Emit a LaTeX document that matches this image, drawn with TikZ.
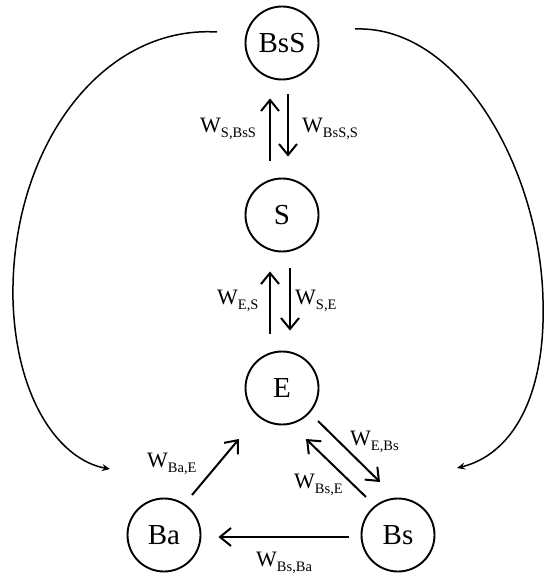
\documentclass[tikz,border=0pt]{standalone}
\usepackage{fontspec}
\setmainfont{Liberation Serif}
\usetikzlibrary{arrows.meta}
\newcommand{\wl}[1]{{\fontsize{22}{22}\selectfont W}\raisebox{-5pt}{\fontsize{14.5}{14.5}\selectfont #1}}
\tikzset{
  state/.style={circle,draw,line width=1.9pt,minimum size=73pt,inner sep=0pt,font=\fontsize{29}{29}\selectfont},
  rate/.style={line width=2pt,-{Straight Barb[length=11pt,width=18pt,line width=2pt]}},
  loopc/.style={line width=1.5pt,-{Stealth[length=8pt,width=7pt]}},
  lbl/.style={anchor=base west,inner sep=0pt}
}
\begin{document}
\begin{tikzpicture}[x=1pt,y=-1pt]
\useasboundingbox (0,0) rectangle (544,577);
\node[state] (BsS) at (282,43) {BsS};
\node[state] (S) at (282,215) {S};
\node[state] (E) at (282,388) {E};
\node[state] (Ba) at (164,535) {Ba};
\node[state] (Bs) at (398,535) {Bs};

% BsS <-> S
\draw[rate] ([shift={(-12,-17)}]S.north) -- ([shift={(-12,18)}]BsS.south);
\draw[rate] ([shift={(6,14)}]BsS.south) -- ([shift={(6,-21)}]S.north);
% S <-> E
\draw[rate] ([shift={(-12,-17)}]E.north) -- ([shift={(-12,19)}]S.south);
\draw[rate] ([shift={(8,16)}]S.south) -- ([shift={(8,-20)}]E.north);
% Ba -> E
\draw[rate] ([shift={(28,-40)}]Ba.center) -- ([shift={(-43,51)}]E.center);
% E <-> Bs
\draw[rate] ([shift={(36,33)}]E.center) -- ([shift={(-18,-53)}]Bs.center);
\draw[rate] ([shift={(-32,-38)}]Bs.center) -- ([shift={(24,51)}]E.center);
% Bs -> Ba
\draw[rate] ([shift={(-12,2)}]Bs.west) -- ([shift={(17,2)}]Ba.east);

% long curves
\draw[loopc] ([shift={(-65,-11)}]BsS.center) .. controls (100,25) and (10,150) .. (13,300)
  .. controls (16,400) and (60,460) .. ([shift={(-54,-66)}]Ba.center);
\draw[loopc] ([shift={(73,-14)}]BsS.center) .. controls (460,25) and (540,170) .. (543,300)
  .. controls (546,400) and (510,455) .. ([shift={(59,-67)}]Bs.center);

% labels
\node[lbl] (l1) at (200,133) {\wl{S,BsS}};
\node[lbl] (l2) at (302,133) {\wl{BsS,S}};
\node[lbl] (l3) at (217,304) {\wl{E,S}};
\node[lbl] (l4) at (295,304) {\wl{S,E}};
\node[lbl] (l5) at (147,467) {\wl{Ba,E}};
\node[lbl] (l6) at (350,445) {\wl{E,Bs}};
\node[lbl] (l7) at (294,488) {\wl{Bs,E}};
\node[lbl] (l8) at (256,566) {\wl{Bs,Ba}};
\end{tikzpicture}
\end{document}
